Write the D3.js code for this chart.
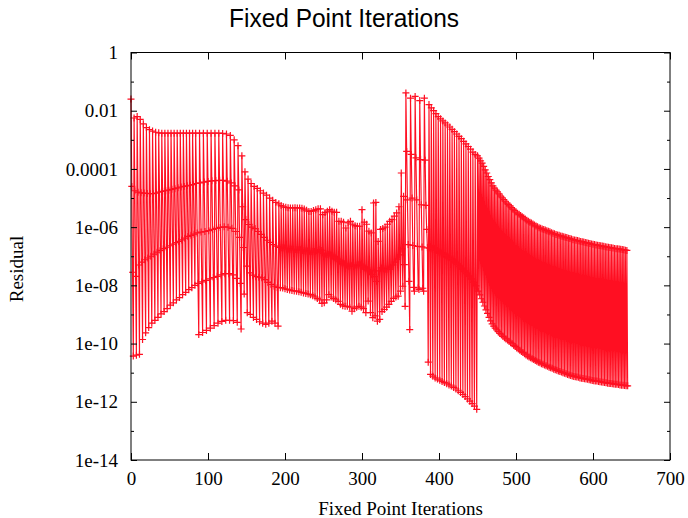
<!DOCTYPE html>
<html>
<head>
<meta charset="utf-8">
<script src="https://cdn.jsdelivr.net/npm/d3@7"></script>
<style>
  body { margin: 0; background: #fff; }
</style>
</head>
<body>
<svg id="chart" width="688" height="518"></svg>
<script>
// log10 of the residual, one inner array per outer cycle
const warmup = [
  [-1.6, -4.6, -7.55, -10.43], [-2.25, -4.75, -7.69, -10.4], [-2.2, -4.8, -7.3, -10.37],
  [-2.3, -4.82, -7.2, -9.86], [-2.45, -4.83, -7.12, -9.63], [-2.58, -4.84, -7.06, -9.45],
  [-2.65, -4.85, -7.0, -9.3], [-2.7, -4.85, -6.93, -9.2], [-2.74, -4.83, -6.86, -9.1],
  [-2.76, -4.8, -6.8, -8.98], [-2.77, -4.77, -6.74, -8.9], [-2.77, -4.75, -6.69, -8.8],
  [-2.77, -4.73, -6.64, -8.68], [-2.77, -4.7, -6.58, -8.6], [-2.77, -4.68, -6.53, -8.5],
  [-2.77, -4.65, -6.49, -8.42], [-2.77, -4.62, -6.44, -8.32], [-2.77, -4.6, -6.38, -8.24],
  [-2.77, -4.58, -6.32, -8.15], [-2.77, -4.56, -6.28, -8.08], [-2.77, -4.54, -6.24, -8.0]
];

const ramp = [
  [-2.77, -4.5, -6.2, -7.93, -9.69], [-2.77, -4.48, -6.17, -7.88, -9.62],
  [-2.77, -4.45, -6.15, -7.83, -9.55], [-2.77, -4.43, -6.12, -7.78, -9.47],
  [-2.77, -4.41, -6.08, -7.73, -9.38], [-2.77, -4.4, -6.04, -7.69, -9.3],
  [-2.77, -4.39, -6.01, -7.64, -9.24], [-2.78, -4.39, -5.99, -7.6, -9.2],
  [-2.8, -4.42, -6.0, -7.6, -9.2], [-2.85, -4.48, -6.04, -7.64, -9.21],
  [-3.0, -4.58, -6.15, -7.76, -9.27], [-3.2, -4.72, -6.35, -7.93, -9.5]
];

const settle = [
  [-3.55, -5.3, -6.7, -8.3], [-4.1, -5.74, -7.34, -8.94], [-4.35, -5.91, -7.57, -9.0],
  [-4.5, -6.0, -7.65, -9.1], [-4.6, -6.05, -7.7, -9.17], [-4.67, -6.15, -7.72, -9.25],
  [-4.75, -6.25, -7.74, -9.3], [-4.83, -6.35, -7.8, -9.34], [-4.9, -6.45, -7.9, -9.3],
  [-5.0, -6.52, -7.97, -9.23], [-5.08, -6.6, -8.03, -9.3], [-5.15, -6.65, -8.07, -9.4]
];

const drift = [
  [-5.2, -6.7, -8.08], [-5.26, -6.71, -8.09], [-5.3, -6.72, -8.12], [-5.32, -6.74, -8.14],
  [-5.33, -6.75, -8.16], [-5.34, -6.76, -8.18], [-5.34, -6.77, -8.19], [-5.33, -6.77, -8.2],
  [-5.34, -6.78, -8.22], [-5.34, -6.78, -8.24], [-5.35, -6.8, -8.26], [-5.38, -6.82, -8.28],
  [-5.42, -6.82, -8.3], [-5.46, -6.83, -8.32], [-5.46, -6.84, -8.36], [-5.43, -6.84, -8.4],
  [-5.4, -6.8, -8.45], [-5.37, -6.77, -8.5], [-5.37, -6.8, -8.62], [-5.57, -6.9, -8.6],
  [-5.5, -6.92, -8.5], [-5.45, -6.94, -8.32], [-5.4, -6.96, -8.4], [-5.45, -7.0, -8.45],
  [-5.49, -7.05, -8.5], [-5.49, -7.1, -8.55], [-5.8, -7.17, -8.65], [-5.8, -7.22, -8.7],
  [-5.83, -7.26, -8.72], [-6.03, -7.3, -8.72], [-5.85, -7.34, -8.75], [-5.8, -7.33, -8.89],
  [-5.9, -7.32, -8.8], [-5.95, -7.3, -8.75], [-5.97, -7.29, -8.72], [-5.97, -7.3, -8.75],
  [-5.4, -7.35, -8.8], [-5.83, -7.4, -8.94], [-5.9, -7.46, -8.54], [-6.14, -7.5, -8.94],
  [-6.2, -7.63, -9.11], [-5.17, -7.7, -9.05], [-5.15, -7.86, -9.23], [-6.49, -7.5, -9.17],
  [-6.08, -7.4, -8.9], [-6.05, -7.43, -8.83], [-6.0, -7.45, -8.75], [-5.9, -7.45, -8.65],
  [-5.8, -7.44, -8.55], [-5.74, -7.3, -8.45], [-5.62, -7.2, -8.4], [-5.51, -7.1, -8.37],
  [-5.3, -6.95, -8.2], [-4.14, -6.75, -8.03], [-4.94, -7.29, -8.72]
];

const restart = [
  [-1.39, -3.4, -5.06, -6.6, -7.86, -9.52],
  [-1.57, -3.5, -5.0, -6.63, -8.07, -8.2],
  [-1.51, -3.62, -5.06, -6.66, -8.09, -8.14],
  [-1.65, -3.68, -5.23, -6.68, -8.1, -8.2],
  [-1.57, -3.7, -5.25, -6.08, -6.71, -10.64]
];

const decay = [
  [-1.79, -6.72, -11.06], [-1.9, -6.74, -11.12], [-2.0, -6.77, -11.18], [-2.1, -6.8, -11.22],
  [-2.2, -6.85, -11.26], [-2.28, -6.89, -11.3], [-2.35, -6.93, -11.34], [-2.42, -6.98, -11.38],
  [-2.49, -7.03, -11.42], [-2.56, -7.08, -11.46], [-2.64, -7.14, -11.51], [-2.72, -7.2, -11.56],
  [-2.8, -7.27, -11.62], [-2.88, -7.35, -11.68], [-2.96, -7.43, -11.75], [-3.05, -7.51, -11.82],
  [-3.14, -7.59, -11.9], [-3.23, -7.68, -11.98], [-3.32, -7.78, -12.06], [-3.42, -7.9, -12.15],
  [-3.5, -8.02, -12.26]
];

const tailHigh = [
  -3.55, -3.63, -3.72, -3.8, -3.91, -4.03, -4.14, -4.26, -4.37, -4.48,
  -4.58, -4.66, -4.73, -4.79, -4.86, -4.93, -4.99, -5.05, -5.11, -5.17,
  -5.22, -5.27, -5.33, -5.38, -5.43, -5.48, -5.52, -5.56, -5.6, -5.64,
  -5.68, -5.72, -5.76, -5.8, -5.83, -5.86, -5.89, -5.93, -5.96, -5.99,
  -6.02, -6.04, -6.06, -6.08, -6.1, -6.12, -6.14, -6.16, -6.19, -6.21,
  -6.23, -6.25, -6.27, -6.28, -6.3, -6.31, -6.33, -6.35, -6.36, -6.38,
  -6.39, -6.41, -6.43, -6.44, -6.45, -6.46, -6.48, -6.49, -6.5, -6.51,
  -6.53, -6.54, -6.55, -6.56, -6.58, -6.59, -6.6, -6.61, -6.62, -6.63,
  -6.64, -6.65, -6.66, -6.67, -6.68, -6.69, -6.7, -6.71, -6.72, -6.73,
  -6.74, -6.74, -6.75, -6.76, -6.77, -6.78, -6.79, -6.8
];

const tailLow = [
  -8.2, -8.33, -8.46, -8.58, -8.71, -8.84, -8.96, -9.1, -9.22, -9.32,
  -9.4, -9.47, -9.53, -9.59, -9.65, -9.7, -9.75, -9.8, -9.84, -9.88,
  -9.92, -9.97, -10.01, -10.06, -10.1, -10.15, -10.19, -10.23, -10.27, -10.31,
  -10.35, -10.39, -10.43, -10.46, -10.49, -10.52, -10.55, -10.58, -10.61, -10.64,
  -10.66, -10.69, -10.71, -10.74, -10.76, -10.78, -10.81, -10.83, -10.85, -10.88,
  -10.9, -10.92, -10.94, -10.96, -10.98, -11.0, -11.02, -11.04, -11.06, -11.08,
  -11.1, -11.11, -11.13, -11.14, -11.15, -11.16, -11.18, -11.19, -11.2, -11.21,
  -11.22, -11.23, -11.24, -11.25, -11.27, -11.28, -11.29, -11.29, -11.3, -11.31,
  -11.32, -11.33, -11.34, -11.35, -11.36, -11.37, -11.37, -11.38, -11.39, -11.4,
  -11.4, -11.41, -11.42, -11.43, -11.43, -11.44, -11.45, -11.45
];

const xTicks = [0, 100, 200, 300, 400, 500, 600, 700];
const yTicks = [1, 1e-2, 1e-4, 1e-6, 1e-8, 1e-10, 1e-12, 1e-14];
const yTickLabels = ["1", "0.01", "0.0001", "1e-06", "1e-08", "1e-10", "1e-12", "1e-14"];
const yMinorTicks = [1e-1, 1e-3, 1e-5, 1e-7, 1e-9, 1e-11, 1e-13];

const exps = [].concat(warmup, ramp, settle, drift, restart, decay,
  tailHigh.map((h, i) => [h, tailLow[i]])).flat();
const data = exps.map((e, i) => ({ it: i, res: Math.pow(10, e) }));

const width = 688, height = 518;
const margin = { top: 52.5, right: 18, bottom: 58, left: 131 };
const red = "#ff0f22";

const svg = d3.select("#chart");

const x = d3.scaleLinear().domain([0, 700])
  .range([margin.left, width - margin.right]);
const y = d3.scaleLog().domain([1e-14, 1])
  .range([height - margin.bottom, margin.top]);

const serif = "'Liberation Serif', 'DejaVu Serif', serif";

// series
svg.append("path")
  .datum(data)
  .attr("fill", "none")
  .attr("stroke", red)
  .attr("stroke-width", 1.15)
  .attr("d", d3.line().x(d => x(d.it)).y(d => y(d.res)));

svg.append("g")
  .selectAll("path")
  .data(data)
  .join("path")
  .attr("stroke", red)
  .attr("stroke-width", 1.2)
  .attr("fill", "none")
  .attr("d", d => {
    const cx = x(d.it), cy = y(d.res);
    return `M${cx - 3.5},${cy}H${cx + 3.5}M${cx},${cy - 3.5}V${cy + 3.5}`;
  });

// axes (gnuplot style, inward ticks mirrored)
const styleAxis = g => {
  g.select(".domain").remove();
  g.selectAll("line").attr("stroke", "#000");
  g.selectAll("text").attr("fill", "#000").style("font-family", serif).style("font-size", "19px");
};

svg.append("g")
  .attr("transform", `translate(0,${height - margin.bottom})`)
  .call(d3.axisBottom(x).tickValues(xTicks).tickSize(-7).tickPadding(12).tickFormat(d3.format("d")))
  .call(styleAxis);

svg.append("g")
  .attr("transform", `translate(0,${margin.top})`)
  .call(d3.axisTop(x).tickValues(xTicks).tickSize(-7).tickFormat(""))
  .call(styleAxis);

svg.append("g")
  .attr("transform", `translate(${margin.left},0)`)
  .call(d3.axisLeft(y).tickValues(yTicks).tickSize(-6).tickPadding(13)
    .tickFormat((d, i) => yTickLabels[i]))
  .call(styleAxis);

svg.append("g")
  .attr("transform", `translate(${margin.left},0)`)
  .call(d3.axisLeft(y).tickValues(yMinorTicks).tickSize(-3).tickFormat(""))
  .call(styleAxis);

svg.append("g")
  .attr("transform", `translate(${width - margin.right},0)`)
  .call(d3.axisRight(y).tickValues(yTicks).tickSize(-6).tickFormat(""))
  .call(styleAxis);

svg.append("g")
  .attr("transform", `translate(${width - margin.right},0)`)
  .call(d3.axisRight(y).tickValues(yMinorTicks).tickSize(-3).tickFormat(""))
  .call(styleAxis);

svg.append("rect")
  .attr("x", margin.left)
  .attr("y", margin.top)
  .attr("width", width - margin.right - margin.left)
  .attr("height", height - margin.bottom - margin.top)
  .attr("fill", "none")
  .attr("stroke", "#000")
  .attr("stroke-width", 1);

// titles
svg.append("text")
  .attr("x", 344)
  .attr("y", 27)
  .attr("text-anchor", "middle")
  .attr("textLength", 230)
  .attr("lengthAdjust", "spacingAndGlyphs")
  .style("font-family", "'Liberation Sans', 'DejaVu Sans', sans-serif")
  .style("font-size", "25px")
  .text("Fixed Point Iterations");

svg.append("text")
  .attr("x", (margin.left + width - margin.right) / 2)
  .attr("y", 515)
  .attr("text-anchor", "middle")
  .style("font-family", serif)
  .style("font-size", "19px")
  .text("Fixed Point Iterations");

svg.append("text")
  .attr("transform", "translate(23,269) rotate(-90)")
  .attr("text-anchor", "middle")
  .style("font-family", serif)
  .style("font-size", "19px")
  .text("Residual");
</script>
</body>
</html>
